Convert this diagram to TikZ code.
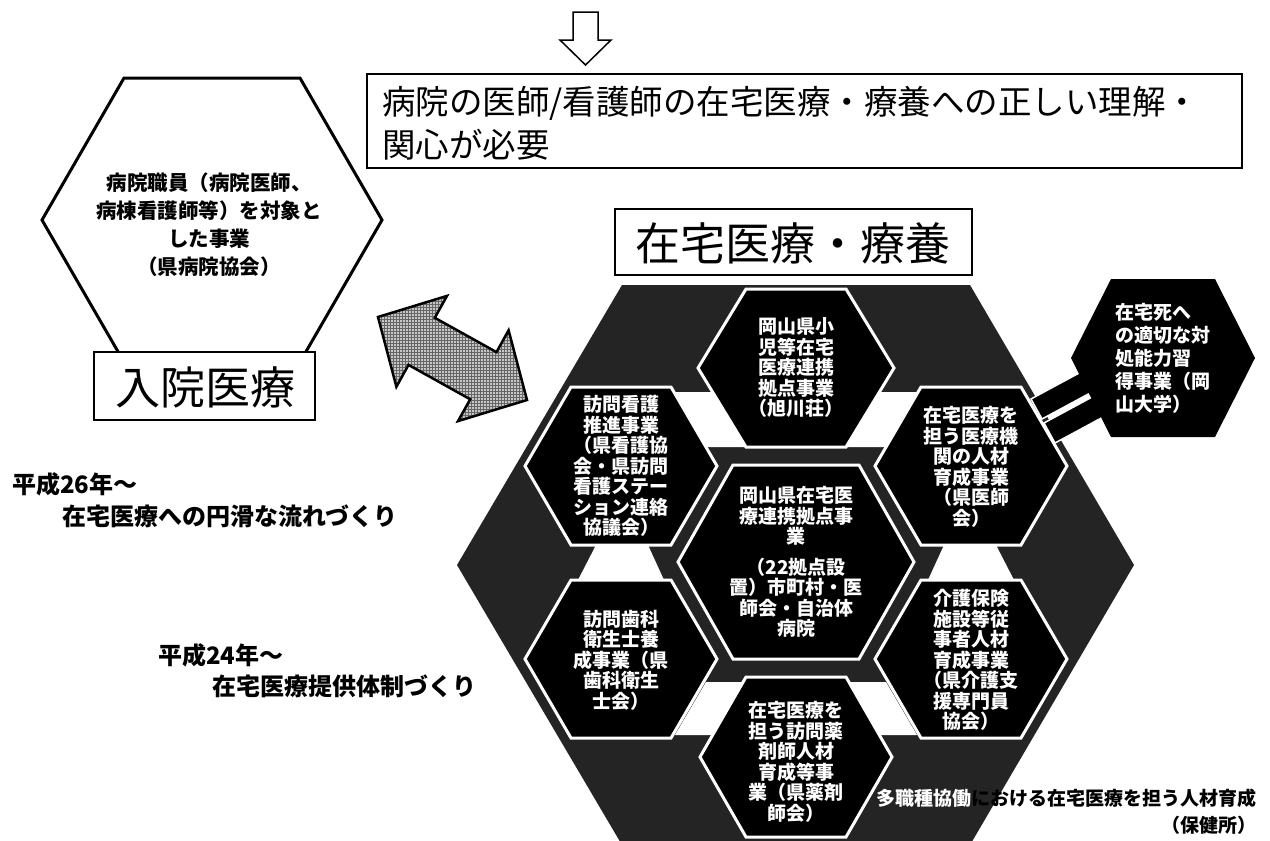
\documentclass[tikz,border=0pt]{standalone}
\usepackage{fontspec}
\newfontfamily\jp{Noto Sans CJK JP}
\usetikzlibrary{patterns}
\newcommand{\myhex}[6]{\path[#1] ({#2-#4},#3) -- ({#2-#6},{#3-#5}) -- ({#2+#6},{#3-#5}) -- ({#2+#4},#3) -- ({#2+#6},{#3+#5}) -- ({#2-#6},{#3+#5}) -- cycle;}
\tikzset{
 hexcell/.style={fill=black, draw=white, line width=3pt, line join=miter},
 celltext/.style={text=white, align=center, inner sep=0pt, font=\jp\bfseries\fontsize{19}{20.5}\selectfont},
 wlink/.style={fill=white},
 bar/.style={fill=black, draw=white, line width=1.5pt},
 boxframe/.style={draw=black, line width=1.5pt, fill=white},
 era/.style={anchor=west, inner sep=0pt, font=\jp\bfseries\fontsize{24}{28}\selectfont},
}
\begin{document}
\begin{tikzpicture}[x=1pt,y=-1pt]
\useasboundingbox (0,0) rectangle (1270,841);
\fill[white] (0,0) rectangle (1270,841);
% down arrow
\draw[line width=1.5pt, fill=white, line join=miter] (573,12) -- (598,12) -- (598,40) -- (611,40) -- (585.5,65) -- (560,40) -- (573,40) -- cycle;
% top box
\draw[boxframe] (367,74) rectangle (1242,168);
\node[anchor=west, align=left, inner sep=0pt, font=\jp\fontsize{33.5}{43}\selectfont] (need) at (382,123) {病院の医師/看護師の在宅医療・療養への正しい理解・\\関心が必要};
% left hexagon
\myhex{draw=black, line width=3pt, fill=white, line join=miter}{212}{220}{170}{142}{88}
\node[align=center, inner sep=0pt, font=\jp\bfseries\fontsize{20.5}{28}\selectfont] (hosp) at (209,225) {病院職員（病院医師、\\病棟看護師等）を対象と\\した事業\\（県病院協会）};
\draw[boxframe] (94,352) rectangle (315,420);
\node[inner sep=0pt, font=\jp\fontsize{45}{50}\selectfont] (nyuin) at (205,387) {入院医療};
% double arrow
\draw[line width=2.5pt, line join=miter, preaction={fill=black!22}, pattern=grid, pattern color=black!60] (378,317) -- (447.0,295.9) -- (434.8,317.8) -- (496.5,352.1) -- (508.6,330.3) -- (527,400) -- (458.0,421.1) -- (470.2,399.3) -- (408.5,364.9) -- (396.4,386.8) -- cycle;
% zaitaku box
\draw[boxframe] (615,209) rectangle (972,275);
\node[inner sep=0pt, font=\jp\fontsize{45}{50}\selectfont] (zaitaku) at (793,243) {在宅医療・療養};
% big hexagon
\fill[black!86] (457,565) -- (622,285) -- (970,285) -- (1134,565) -- (970,845) -- (622,845) -- cycle;
% white links
\fill[wlink] (674,392) -- (713,392) -- (746,447) -- (706,447) -- cycle;
\fill[wlink] (918,392) -- (879,392) -- (846,447) -- (886,447) -- cycle;
\fill[wlink] (596,545) -- (648,545) -- (664,580) -- (578,580) -- cycle;
\fill[wlink] (996,545) -- (944,545) -- (928,580) -- (1014,580) -- cycle;
\fill[wlink] (706,682) -- (743,682) -- (713,735) -- (675,735) -- cycle;
\fill[wlink] (886,682) -- (849,682) -- (879,735) -- (917,735) -- cycle;
% bars
\draw[bar] (1031,399) -- (1081,372) -- (1092,392) -- (1042,419) -- cycle;
\draw[bar] (1044,423) -- (1094,396) -- (1105,416) -- (1055,443) -- cycle;
% inner hexagons
\myhex{hexcell}{796}{368}{98}{79}{50}
\myhex{hexcell}{621}{466}{96}{79}{50}
\myhex{hexcell}{971}{466}{96}{79}{50}
\myhex{hexcell}{796}{562}{118}{97}{63}
\myhex{hexcell}{621}{659}{96}{79}{50}
\myhex{hexcell}{971}{659}{96}{79}{50}
\myhex{hexcell}{796}{757}{96}{80}{50}
% outside hexagon
\myhex{fill=black}{1163}{358}{92}{79}{52}
% cell texts
\node[celltext] (top) at (796,368) {岡山県小\\児等在宅\\医療連携\\拠点事業\\（旭川荘）};
\node[celltext] (ul) at (621,466) {訪問看護\\推進事業\\（県看護協\\会・県訪問\\看護ステー\\ション連絡\\協議会）};
\node[celltext] (ur) at (971,467) {在宅医療を\\担う医療機\\関の人材\\育成事業\\（県医師\\会）};
\node[celltext] (cen) at (796,562) {岡山県在宅医\\療連携拠点事\\業\\[10pt]（22拠点設\\置）市町村・医\\師会・自治体\\病院};
\node[celltext] (ll) at (621,660) {訪問歯科\\衛生士養\\成事業（県\\歯科衛生\\士会）};
\node[celltext] (lr) at (971,660) {介護保険\\施設等従\\事者人材\\育成事業\\（県介護支\\援専門員\\協会）};
\node[celltext] (bot) at (796,762) {在宅医療を\\担う訪問薬\\剤師人材\\育成等事\\業（県薬剤\\師会）};
\node[celltext, align=left, font=\jp\bfseries\fontsize{19}{23}\selectfont] (death) at (1163,358) {在宅死へ\\の適切な対\\処能力習\\得事業（岡\\山大学）};
% era labels
\node[era] (h26) at (12,484) {平成26年～};
\node[era] (h26b) at (62,516) {在宅医療への円滑な流れづくり};
\node[era] (h24) at (158,655) {平成24年～};
\node[era] (h24b) at (212,686) {在宅医療提供体制づくり};
% bottom right
\node[anchor=east, inner sep=0pt, font=\jp\bfseries\fontsize{19}{22}\selectfont] (tajob) at (1257,798) {\textcolor{white}{多職種協働}における在宅医療を担う人材育成};
\node[anchor=east, inner sep=0pt, font=\jp\bfseries\fontsize{19}{22}\selectfont] (hokenjo) at (1257,825) {（保健所）};
\end{tikzpicture}
\end{document}
